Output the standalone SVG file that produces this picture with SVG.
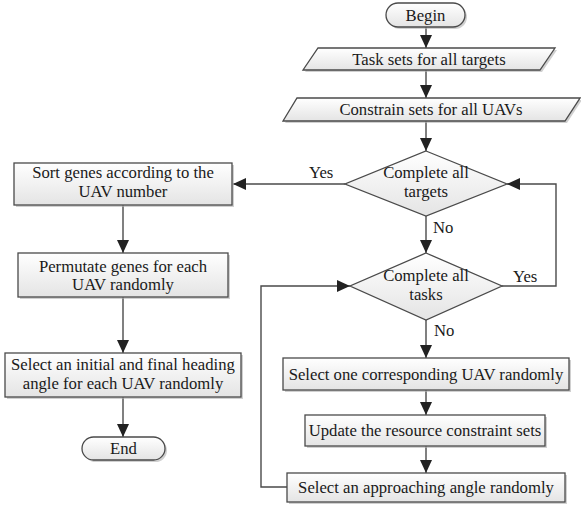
<svg xmlns="http://www.w3.org/2000/svg" width="581" height="513" viewBox="0 0 581 513">
<style>
.shape{fill:url(#g);stroke:#4a4a4a;stroke-width:1.3}
.shadow{fill:#b0b0b0;opacity:0.6}
.conn{fill:none;stroke:#4a4a4a;stroke-width:1.4}
</style>
<defs>
<linearGradient id="g" x1="0" y1="0" x2="0" y2="1">
<stop offset="0" stop-color="#ffffff"/>
<stop offset="1" stop-color="#e4e4e4"/>
</linearGradient>
<marker id="ah" markerUnits="userSpaceOnUse" markerWidth="14" markerHeight="12" refX="13" refY="6" orient="auto">
<path d="M0,0 L13,6 L0,12 Z" fill="#222"/>
</marker>
</defs>
<g font-family="Liberation Serif, serif" font-size="16.7" fill="#1a1a1a" text-anchor="middle">
<g id="connectors">
<line class="conn" x1="426" y1="27" x2="426" y2="48" marker-end="url(#ah)"/>
<line class="conn" x1="426" y1="70" x2="426" y2="98" marker-end="url(#ah)"/>
<line class="conn" x1="426" y1="121" x2="426" y2="151" marker-end="url(#ah)"/>
<line class="conn" x1="426" y1="216" x2="426" y2="253" marker-end="url(#ah)"/>
<line class="conn" x1="426" y1="320" x2="426" y2="358" marker-end="url(#ah)"/>
<line class="conn" x1="426" y1="390" x2="426" y2="415" marker-end="url(#ah)"/>
<line class="conn" x1="426" y1="446" x2="426" y2="473" marker-end="url(#ah)"/>
<line class="conn" x1="345" y1="184" x2="233" y2="184" marker-end="url(#ah)"/>
<polyline class="conn" points="502,286 556,286 556,184 507,184" marker-end="url(#ah)"/>
<polyline class="conn" points="287,487 261,487 261,286 350,286" marker-end="url(#ah)"/>
<line class="conn" x1="123" y1="205" x2="123" y2="253" marker-end="url(#ah)"/>
<line class="conn" x1="123" y1="297" x2="123" y2="353" marker-end="url(#ah)"/>
<line class="conn" x1="123" y1="397" x2="123" y2="437" marker-end="url(#ah)"/>
<text text-anchor="start" x="309" y="178">Yes</text>
<text text-anchor="start" x="513" y="282">Yes</text>
<text text-anchor="start" x="433" y="233">No</text>
<text text-anchor="start" x="434" y="336">No</text>
</g>
<g id="begin">
<rect class="shadow" x="388" y="5" width="79" height="24" rx="12"/>
<rect class="shape" x="386" y="3" width="79" height="24" rx="12"/>
<text x="425.5" y="21">Begin</text>
</g>
<g id="task-sets">
<polygon class="shadow" points="320,50 557,50 542,72 305,72"/>
<polygon class="shape" points="318,48 555,48 540,70 303,70"/>
<text x="429" y="65">Task sets for all targets</text>
</g>
<g id="constrain-sets">
<polygon class="shadow" points="299,100 582,100 567,123 285,123"/>
<polygon class="shape" points="297,98 580,98 565,121 283,121"/>
<text x="431" y="115">Constrain sets for all UAVs</text>
</g>
<g id="complete-targets">
<polygon class="shape" points="426,151 507,184 426,216 345,184"/>
<text x="426" y="178">Complete all</text>
<text x="426" y="197">targets</text>
</g>
<g id="complete-tasks">
<polygon class="shape" points="426,253 502,286 426,320 350,286"/>
<text x="426" y="281">Complete all</text>
<text x="426" y="300">tasks</text>
</g>
<g id="select-uav">
<rect class="shadow" x="285" y="360" width="286" height="32"/>
<rect class="shape" x="283" y="358" width="286" height="32"/>
<text x="426" y="380">Select one corresponding UAV randomly</text>
</g>
<g id="update-sets">
<rect class="shadow" x="307" y="417" width="240" height="31"/>
<rect class="shape" x="305" y="415" width="240" height="31"/>
<text x="425" y="436">Update the resource constraint sets</text>
</g>
<g id="select-angle">
<rect class="shadow" x="289" y="475" width="278" height="29"/>
<rect class="shape" x="287" y="473" width="278" height="29"/>
<text x="426" y="493">Select an approaching angle randomly</text>
</g>
<g id="sort-genes">
<rect class="shadow" x="16" y="165" width="218" height="42"/>
<rect class="shape" x="14" y="163" width="218" height="42"/>
<text x="123" y="178">Sort genes according to the</text>
<text x="123" y="197">UAV number</text>
</g>
<g id="permutate-genes">
<rect class="shadow" x="20" y="255" width="210" height="44"/>
<rect class="shape" x="18" y="253" width="210" height="44"/>
<text x="123" y="272">Permutate genes for each</text>
<text x="123" y="290">UAV randomly</text>
</g>
<g id="select-heading">
<rect class="shadow" x="7" y="355" width="236" height="44"/>
<rect class="shape" x="5" y="353" width="236" height="44"/>
<text x="123" y="370">Select an initial and final heading</text>
<text x="123" y="389">angle for each UAV randomly</text>
</g>
<g id="end">
<rect class="shadow" x="84" y="439" width="83" height="23" rx="11.5"/>
<rect class="shape" x="82" y="437" width="83" height="23" rx="11.5"/>
<text x="123.5" y="454">End</text>
</g>
</g>
</svg>
